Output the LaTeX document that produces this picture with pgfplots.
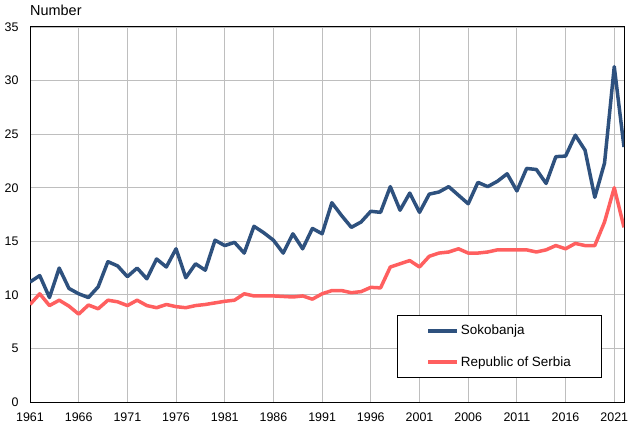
\documentclass[border=0pt]{standalone}
\usepackage{fontspec}
\setmainfont{Liberation Sans}
\usepackage{pgfplots}
\pgfplotsset{compat=1.18}

\definecolor{soko}{RGB}{46,81,126}
\definecolor{srb}{RGB}{255,95,95}
\definecolor{gridc}{RGB}{190,190,190}

\begin{document}
\begin{tikzpicture}
\useasboundingbox (0,0) rectangle (629bp,426bp);
\begin{axis}[
  name=ax,
  at={(30bp,24bp)}, anchor=south west,
  scale only axis,
  width=594bp, height=375bp,
  xmin=1961, xmax=2022,
  ymin=0, ymax=35,
  xtick={1961,1966,...,2021},
  ytick={0,5,...,35},
  major tick length=0pt,
  grid=major,
  major grid style={gridc, line width=0.9bp},
  axis line style={black, line width=1bp},
  /pgf/number format/1000 sep={},
  /pgf/number format/assume math mode=true,
  tick label style={font=\fontsize{12.5}{14}\selectfont},
  xticklabel style={yshift=-7bp},
  yticklabel style={xshift=-8bp},
  legend style={at={(0.618,0.064)}, anchor=south west,
    draw=black, line width=0.8bp, fill=white,
    font=\fontsize{13.5}{15}\selectfont,
    inner xsep=29bp, inner ysep=8bp, row sep=16bp},
  legend cell align=left,
  legend image code/.code={\draw[#1, line width=3.5bp] (0bp,0bp) -- (29bp,0bp);},
  every axis plot/.append style={line width=3.5bp, line join=round},
]
\addplot[soko] coordinates {
(1961,11.2) (1962,11.8) (1963,9.75) (1964,12.5) (1965,10.6) (1966,10.1)
(1967,9.75) (1968,10.75) (1969,13.1) (1970,12.7) (1971,11.7) (1972,12.5)
(1973,11.5) (1974,13.35) (1975,12.6) (1976,14.3) (1977,11.6) (1978,12.9)
(1979,12.3) (1980,15.1) (1981,14.6) (1982,14.9) (1983,13.9) (1984,16.4)
(1985,15.8) (1986,15.1) (1987,13.9) (1988,15.7) (1989,14.3) (1990,16.2)
(1991,15.7) (1992,18.6) (1993,17.4) (1994,16.3) (1995,16.8) (1996,17.8)
(1997,17.7) (1998,20.1) (1999,17.9) (2000,19.5) (2001,17.7) (2002,19.4)
(2003,19.6) (2004,20.1) (2005,19.3) (2006,18.5) (2007,20.5) (2008,20.1)
(2009,20.6) (2010,21.3) (2011,19.7) (2012,21.8) (2013,21.7) (2014,20.4)
(2015,22.9) (2016,22.95) (2017,24.9) (2018,23.5) (2019,19.1) (2020,22.3)
(2021,31.3) (2022,23.8)
};
\addlegendentry{Sokobanja}
\addplot[srb] coordinates {
(1961,9.1) (1962,10.1) (1963,9.0) (1964,9.5) (1965,8.95) (1966,8.2)
(1967,9.05) (1968,8.7) (1969,9.5) (1970,9.35) (1971,9.0) (1972,9.5)
(1973,9.0) (1974,8.8) (1975,9.1) (1976,8.9) (1977,8.8) (1978,9.0)
(1979,9.1) (1980,9.25) (1981,9.4) (1982,9.5) (1983,10.1) (1984,9.9)
(1985,9.9) (1986,9.9) (1987,9.85) (1988,9.8) (1989,9.9) (1990,9.6)
(1991,10.1) (1992,10.4) (1993,10.4) (1994,10.2) (1995,10.3) (1996,10.7)
(1997,10.65) (1998,12.6) (1999,12.9) (2000,13.2) (2001,12.6) (2002,13.6)
(2003,13.9) (2004,14.0) (2005,14.3) (2006,13.9) (2007,13.9) (2008,14.0)
(2009,14.2) (2010,14.2) (2011,14.2) (2012,14.2) (2013,14.0) (2014,14.2)
(2015,14.6) (2016,14.3) (2017,14.8) (2018,14.6) (2019,14.6) (2020,16.8)
(2021,20.0) (2022,16.3)
};
\addlegendentry{Republic of Serbia}
\end{axis}
\node[anchor=base west, inner sep=0pt, font=\fontsize{14.5}{16}\selectfont]
  at ([yshift=11bp]ax.north west) {Number};
\end{tikzpicture}
\end{document}
